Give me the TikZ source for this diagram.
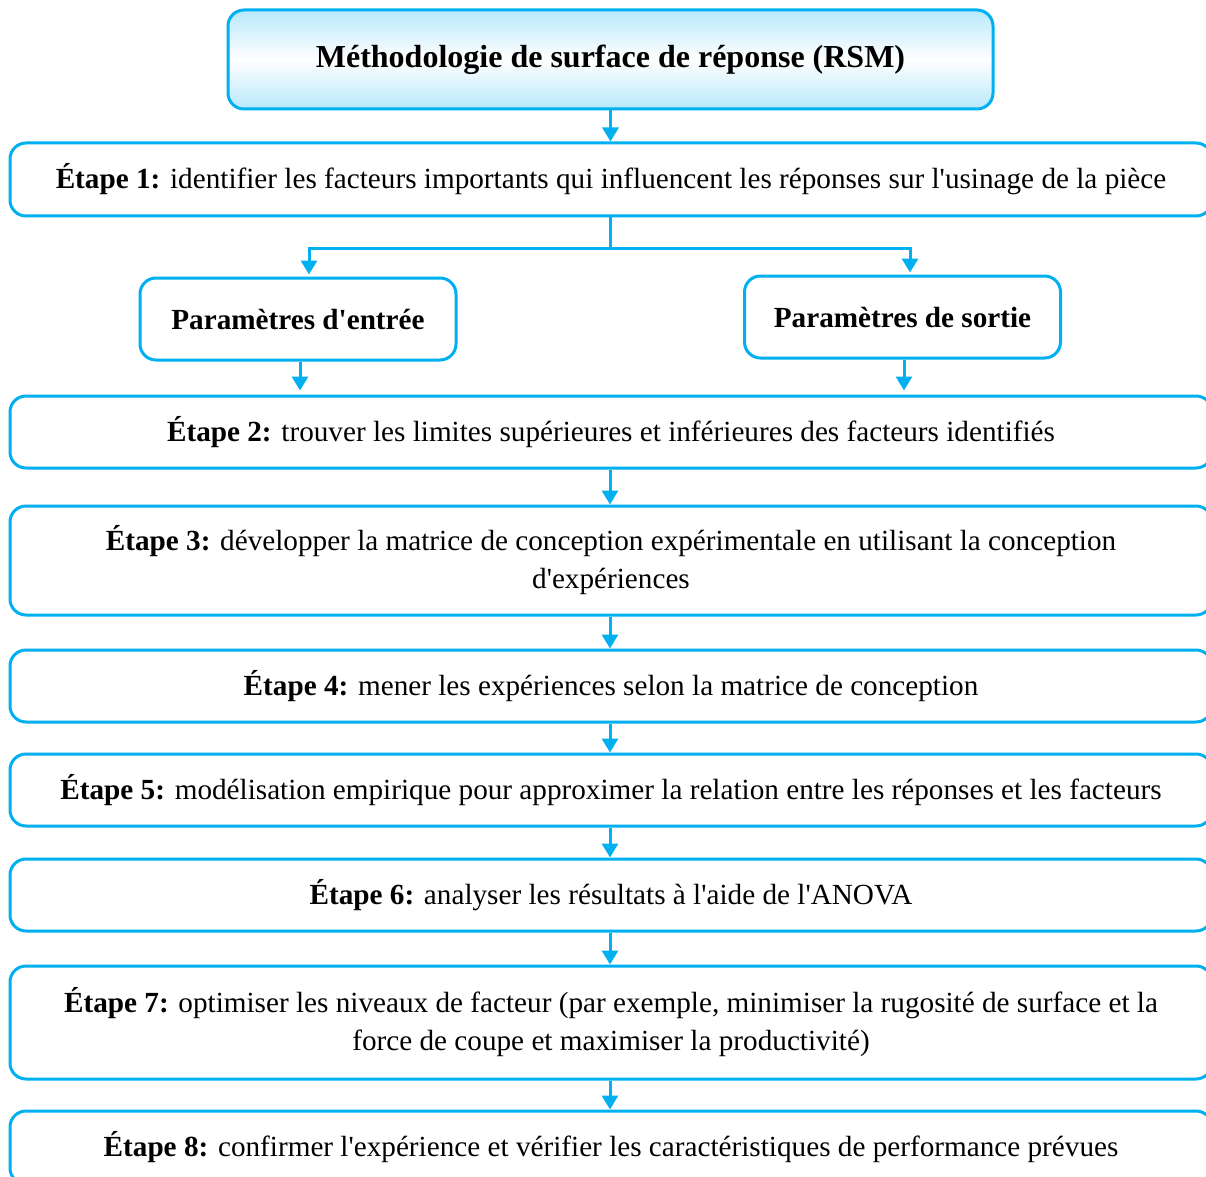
\documentclass[tikz,border=0pt]{standalone}
\usepackage{fontspec}
\setmainfont{Liberation Serif}[Ligatures=TeXOff]
\usetikzlibrary{arrows.meta,positioning}
\definecolor{rsmblue}{HTML}{00B0F0}
\definecolor{rsmlight}{HTML}{B8E8FB}

\begin{document}
\begin{tikzpicture}[x=0.5pt,y=-0.5pt,
    stepbox/.style={draw=rsmblue,line width=1.5pt,rounded corners=8pt,
      minimum width=601pt,inner sep=0pt,align=center,
      font=\fontsize{14.6}{19}\selectfont},
    parbox/.style={draw=rsmblue,line width=1.5pt,rounded corners=8pt,
      minimum width=158pt,minimum height=41pt,inner sep=0pt,
      font=\fontsize{14.6}{19}\selectfont\bfseries},
    flow/.style={draw=rsmblue,line width=1.5pt,-{Triangle[width=8pt,length=7pt]}},
    link/.style={draw=rsmblue,line width=1.5pt}]
        % Frame of the page
        \useasboundingbox (0,0) rectangle (1206,1177);
        \clip (0,0) rectangle (1206,1177);
        
        % Title
        \node[draw=rsmblue,line width=1.5pt,rounded corners=8pt,
              top color=rsmlight,bottom color=rsmlight,middle color=white,
              minimum width=382.5pt,minimum height=49.5pt,
              font=\fontsize{16}{19}\selectfont\bfseries] (rsm) at (610.5,59.5)
              {Méthodologie de surface de réponse (RSM)};
        
        % Steps
        \node[stepbox,minimum height=36.5pt] (e1) at (611,179.5)
              {\textbf{Étape 1:} identifier les facteurs importants qui influencent les réponses sur l'usinage de la pièce};
        \node[parbox] (in) at (298,319) {Paramètres d'entrée};
        \node[parbox] (out) at (902.5,317) {Paramètres de sortie};
        \node[stepbox,minimum height=36pt] (e2) at (611,432)
              {\textbf{Étape 2:} trouver les limites supérieures et inférieures des facteurs identifiés};
        \node[stepbox,minimum height=54.5pt] (e3) at (611,560.5)
              {\textbf{Étape 3:} développer la matrice de conception expérimentale en utilisant la conception\\ d'expériences};
        \node[stepbox,minimum height=36pt] (e4) at (611,686)
              {\textbf{Étape 4:} mener les expériences selon la matrice de conception};
        \node[stepbox,minimum height=36pt] (e5) at (611,790)
              {\textbf{Étape 5:} modélisation empirique pour approximer la relation entre les réponses et les facteurs};
        \node[stepbox,minimum height=36pt] (e6) at (611,895)
              {\textbf{Étape 6:} analyser les résultats à l'aide de l'ANOVA};
        \node[stepbox,minimum height=56.5pt] (e7) at (611,1022.5)
              {\textbf{Étape 7:} optimiser les niveaux de facteur (par exemple, minimiser la rugosité de surface et la\\ force de coupe et maximiser la productivité)};
        \node[stepbox,minimum height=36.5pt] (e8) at (611,1147.5)
              {\textbf{Étape 8:} confirmer l'expérience et vérifier les caractéristiques de performance prévues};
        
        % Split into input / output parameters
        \coordinate (split) at (610,248);
        \draw[flow] (rsm.south) -- (rsm.south |- e1.north);
        \draw[link] (e1.south -| split) -- (split);
        \draw[flow] (split) -| ([xshift=5.5pt,yshift=1pt]in.north);
        \draw[flow] (split) -| ([xshift=3.75pt,yshift=1pt]out.north);
        \draw[flow] ([xshift=1pt]in.south) -- ([xshift=1pt,yshift=2pt]in.south |- e2.north);
        \draw[flow] ([xshift=0.75pt]out.south) -- ([xshift=0.75pt,yshift=2pt]out.south |- e2.north);
        
        % Chain of steps
        \foreach \a/\b in {e2/e3,e3/e4,e4/e5,e5/e6,e6/e7,e7/e8} {
            \draw[flow] ([xshift=-0.5pt]\a.south) -- ([xshift=-0.5pt]\b.north);
        }
        
\end{tikzpicture}
\end{document}
